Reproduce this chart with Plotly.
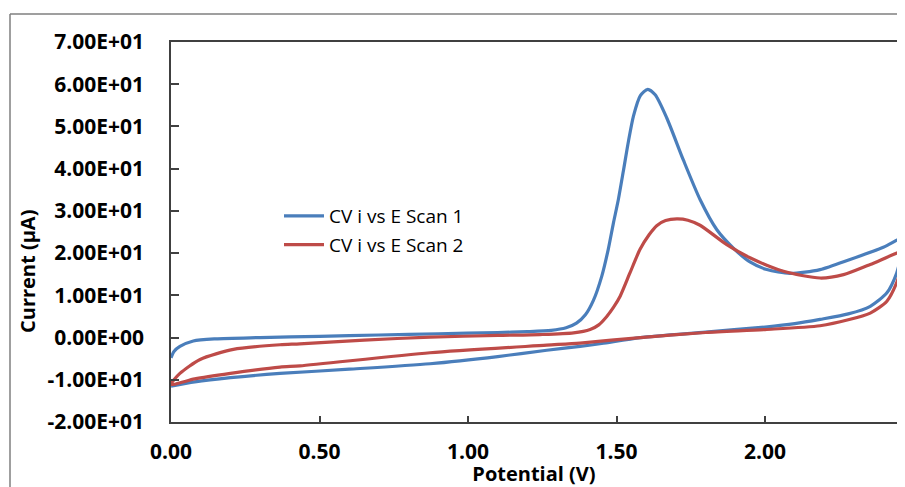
import plotly.graph_objects as go

# ---- data ----
scan1_x = [0.0, 0.01, 0.03, 0.075, 0.15, 0.3, 0.5, 0.7, 0.9, 1.1, 1.2, 1.28, 1.33, 1.365, 1.395,
           1.422, 1.45, 1.472, 1.489, 1.506, 1.523, 1.54, 1.557, 1.58, 1.605, 1.63, 1.669, 1.725,
           1.781, 1.837, 1.893, 1.949, 2.006, 2.084, 2.185, 2.286, 2.398, 2.475,
           2.466, 2.443, 2.41, 2.354, 2.28, 2.185, 2.1, 2.0, 1.8, 1.58, 1.45, 1.377, 1.265,
           1.1, 0.872, 0.6, 0.367, 0.2, 0.08, 0.0]
scan1_y = [-4.8, -3.3, -2.1, -0.8, -0.3, 0.0, 0.3, 0.6, 0.9, 1.2, 1.4, 1.7, 2.3, 3.4, 5.4,
           8.8, 14.5, 20.9, 27.0, 32.7, 39.5, 46.5, 52.5, 57.3, 58.8, 57.5, 52.0, 42.0,
           32.7, 25.6, 21.2, 17.9, 16.1, 15.2, 16.1, 18.5, 21.4, 24.0,
           21.6, 15.3, 10.6, 7.4, 5.6, 4.3, 3.3, 2.5, 1.3, 0.0, -1.4, -2.1, -3.0,
           -4.5, -6.2, -7.5, -8.5, -9.5, -10.5, -11.5]

scan2_x = [0.0, 0.03, 0.098, 0.21, 0.367, 0.434, 0.65, 0.872, 1.1, 1.242, 1.355, 1.411, 1.44,
           1.467, 1.49, 1.512, 1.545, 1.579, 1.61, 1.635, 1.665, 1.703, 1.74, 1.781, 1.871,
           1.949, 2.062, 2.185, 2.264, 2.354, 2.475,
           2.466, 2.443, 2.41, 2.354, 2.28, 2.185, 2.0, 1.8, 1.58, 1.377, 1.265, 0.872, 0.434,
           0.367, 0.2, 0.08, 0.0]
scan2_y = [-11.1, -8.5, -5.2, -2.8, -1.7, -1.5, -0.6, 0.1, 0.5, 0.7, 1.1, 1.9, 3.0,
           5.0, 7.2, 9.8, 15.3, 20.9, 24.4, 26.5, 27.7, 28.1, 27.8, 26.6, 22.0,
           18.9, 15.7, 14.1, 14.9, 17.3, 20.6,
           18.5, 13.0, 8.6, 5.8, 4.2, 2.8, 1.9, 1.2, 0.0, -1.3, -1.8, -3.6, -6.7,
           -7.0, -8.5, -9.8, -11.1]

series_names = ["CV i vs E Scan 1", "CV i vs E Scan 2"]

y_tickvals = [-20, -10, 0, 10, 20, 30, 40, 50, 60, 70]
y_ticktext = ["-2.00E+01", "-1.00E+01", "0.00E+00", "1.00E+01", "2.00E+01",
              "3.00E+01", "4.00E+01", "5.00E+01", "6.00E+01", "7.00E+01"]
x_tickvals = [0.0, 0.5, 1.0, 1.5, 2.0]
x_ticktext = ["0.00", "0.50", "1.00", "1.50", "2.00"]

# ---- figure (page body adds an 8px offset; visible area ends 8px before the window edge) ----
W, H = 889, 479
ML, MR, MT, MB = 163, 0, 34, 65
pw, ph = W - ML - MR, H - MT - MB
plot_bottom = H - MB

def px_x(v):
    return (v - ML) / pw

def px_y(v):
    return (plot_bottom - v) / ph

fig = go.Figure()
fig.add_trace(go.Scatter(x=scan1_x, y=scan1_y, mode="lines", name=series_names[0],
                         legendgroup="a",
                         line=dict(color="#4A7EBB", width=3.2, shape="spline", smoothing=0.7)))
fig.add_trace(go.Scatter(x=scan2_x, y=scan2_y, mode="lines", name=series_names[1],
                         legendgroup="b",
                         line=dict(color="#BE4B48", width=3.2, shape="spline", smoothing=0.7)))

tick_font = dict(family="Open Sans", size=21, color="#000000", weight="bold")

fig.update_layout(
    width=W, height=H,
    margin=dict(l=ML, r=MR, t=MT, b=MB, pad=0),
    paper_bgcolor="white", plot_bgcolor="white",
    showlegend=True,
    legend=dict(x=px_x(271), y=px_y(189), xanchor="left", yanchor="top",
                font=dict(family="Open Sans", size=19, color="#000000"),
                bgcolor="rgba(0,0,0,0)", tracegroupgap=1, itemwidth=40),
    xaxis=dict(range=[0, 2.444], tickvals=x_tickvals, ticktext=x_ticktext,
               ticks="inside", ticklen=6, tickwidth=1.5, tickcolor="#404040",
               showline=True, linecolor="#404040", linewidth=1.5, mirror=True,
               showgrid=False, zeroline=False,
               tickfont=tick_font, ticklabelstandoff=10,
               title=dict(text="<b>Potential (V)</b>", standoff=2,
                          font=dict(family="Open Sans", size=20, color="#000000"))),
    yaxis=dict(range=[-20, 70], tickvals=y_tickvals, ticktext=y_ticktext,
               ticks="inside", ticklen=8, tickwidth=1.5, tickcolor="#404040",
               showline=True, linecolor="#404040", linewidth=1.5,
               showgrid=False, zeroline=False,
               tickfont=tick_font, ticklabelstandoff=21),
    annotations=[dict(text="<b>Current (µA)</b>", xref="paper", yref="paper",
                      x=px_x(19), y=px_y(264), xanchor="center", yanchor="middle",
                      textangle=-90, showarrow=False,
                      font=dict(family="Open Sans", size=20, color="#000000"))],
    shapes=[
        dict(type="line", xref="paper", yref="paper",
             x0=px_x(2), x1=px_x(2), y0=px_y(6), y1=px_y(H + 20),
             line=dict(color="#7F7F7F", width=1.5)),
        dict(type="line", xref="paper", yref="paper",
             x0=px_x(2), x1=px_x(W + 20), y0=px_y(6), y1=px_y(6),
             line=dict(color="#7F7F7F", width=1.5)),
    ],
)

fig.write_html("out.html")
